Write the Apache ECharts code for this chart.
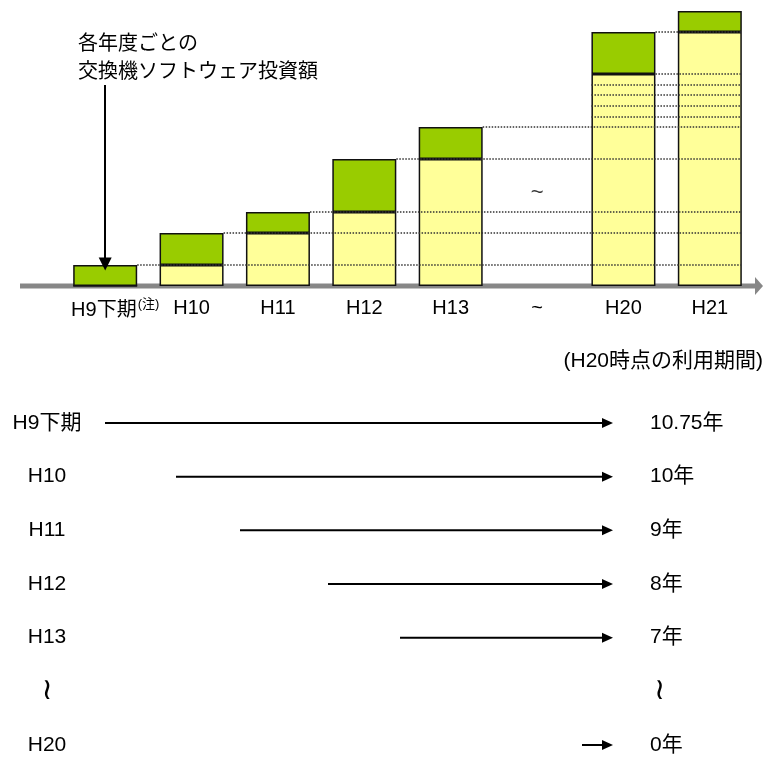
<!DOCTYPE html>
<html>
<head>
<meta charset="utf-8">
<script src="https://cdn.jsdelivr.net/npm/echarts@6/dist/echarts.min.js"></script>
<style>
  html, body { margin: 0; padding: 0; background: #fff; }
  #chart { width: 763px; height: 758px; }
</style>
</head>
<body>
<div id="chart"></div>
<script>
// fiscal periods shown in the upper bar chart
const categories = ['H9下期', 'H10', 'H11', 'H12', 'H13', '~', 'H20', 'H21']
// accumulated software investment before each period (yellow) and new investment of the period (green)
const priorTotal = [0, 21, 53, 74, 127, null, 212, 254]
const newInvest = [21, 32, 21, 53, 32, null, 42, 21]
// dotted guide levels (accumulated totals) and the bar each one starts from
const guideLevels = [21, 53, 74, 127, 159, 169, 180, 191, 201, 212, 254]
const guideFrom = ['H9下期', 'H10', 'H11', 'H12', 'H13', 'H20', 'H20', 'H20', 'H20', 'H20', 'H20']

// lower part: usage period as of H20
const periodRows = ['H9下期', 'H10', 'H11', 'H12', 'H13', '≀', 'H20']
const periodLabels = ['10.75年', '10年', '9年', '8年', '7年', '≀', '0年']
const arrowLength = [508, 437, 373, 285, 213, null, 31]

const FONT = "'Liberation Sans', Arial, 'Noto Sans CJK JP', sans-serif"
const BAR_W = 64

const chart = echarts.init(document.getElementById('chart'))

const guideData = guideLevels.map((v, i) => [categories.indexOf(guideFrom[i]), v])
const arrowData = arrowLength.map((v, i) => [v, i]).filter(d => d[0] != null)

const option = {
  animation: false,
  backgroundColor: '#fff',
  textStyle: { fontFamily: FONT },
  grid: [
    { left: 62, right: 10, top: 11, bottom: 472 },
    { left: 105, right: 150, top: 423, bottom: 13 }
  ],
  xAxis: [
    {
      gridIndex: 0,
      type: 'category',
      data: categories,
      axisLine: { show: false },
      axisTick: { show: false },
      axisLabel: {
        interval: 0,
        margin: 12,
        color: '#000',
        fontSize: 20,
        fontFamily: FONT,
        formatter: v => v === 'H9下期' ? '{a|H9下期}{s|(注)}' : v,
        rich: {
          a: { fontSize: 20, color: '#000', fontFamily: FONT, padding: [0, 0, 0, 20] },
          s: { fontSize: 13, color: '#000', fontFamily: FONT, padding: [0, 0, 12, 1] }
        }
      }
    },
    {
      gridIndex: 1,
      type: 'value',
      min: -508,
      max: 0,
      show: false
    }
  ],
  yAxis: [
    { gridIndex: 0, type: 'value', min: 0, max: 275, show: false },
    {
      gridIndex: 1,
      type: 'category',
      data: periodRows,
      inverse: true,
      boundaryGap: false,
      axisLine: { show: false },
      axisTick: { show: false },
      splitLine: { show: false },
      axisLabel: {
        interval: 0,
        margin: 58,
        align: 'center',
        color: '#000',
        fontSize: 21,
        fontFamily: FONT,
        formatter: v => v === '≀' ? '{w|≀}' : v,
        rich: { w: { fontSize: 30, fontFamily: 'DejaVu Sans', color: '#000' } }
      }
    },
    {
      gridIndex: 1,
      type: 'category',
      position: 'right',
      data: periodLabels,
      inverse: true,
      boundaryGap: false,
      axisLine: { show: false },
      axisTick: { show: false },
      splitLine: { show: false },
      axisLabel: {
        interval: 0,
        margin: 37,
        align: 'left',
        color: '#000',
        fontSize: 21,
        fontFamily: FONT,
        formatter: v => v === '≀' ? '{w|≀}' : v,
        rich: { w: { fontSize: 30, fontFamily: 'DejaVu Sans', color: '#000', padding: [0, 0, 0, 4] } }
      }
    }
  ],
  graphic: [
    {
      type: 'line',
      z: 0,
      shape: { x1: 20, y1: 286, x2: 757, y2: 286 },
      style: { stroke: '#878787', lineWidth: 5 }
    },
    {
      type: 'polygon',
      z: 0,
      shape: { points: [[755, 277], [763, 286], [755, 295]] },
      style: { fill: '#878787' }
    },
    {
      type: 'text',
      left: 78,
      top: 28,
      style: {
        text: '各年度ごとの\n交換機ソフトウェア投資額',
        font: "20px 'Noto Sans CJK JP'",
        lineHeight: 28,
        fill: '#000'
      }
    },
    {
      type: 'text',
      x: 763,
      y: 361,
      style: {
        text: '(H20時点の利用期間)',
        font: "21px 'Liberation Sans', 'Noto Sans CJK JP'",
        align: 'right',
        verticalAlign: 'middle',
        fill: '#000'
      }
    }
  ],
  series: [
    {
      name: '累計',
      type: 'bar',
      stack: 'inv',
      barWidth: BAR_W,
      data: priorTotal.map(v => v == null ? '-' : v),
      itemStyle: { color: '#FFFF99', borderColor: '#111', borderWidth: 1.5 },
      z: 2
    },
    {
      name: '投資額',
      type: 'bar',
      stack: 'inv',
      barWidth: BAR_W,
      data: newInvest.map(v => v == null ? '-' : v),
      itemStyle: { color: '#99CC00', borderColor: '#111', borderWidth: 1.5 },
      z: 2,
      markLine: {
        silent: true,
        symbol: ['none', 'triangle'],
        symbolSize: 13,
        label: { show: false },
        lineStyle: { color: '#000', width: 2, type: 'solid' },
        data: [[{ coord: ['H9下期', 201] }, { coord: ['H9下期', 22] }]]
      }
    },
    {
      name: 'guide',
      type: 'custom',
      z: 5,
      silent: true,
      encode: { x: 0, y: 1 },
      data: guideData,
      renderItem: (params, api) => {
        const idx = api.value(0)
        const lvl = api.value(1)
        const c = api.coord([idx, lvl])
        const half = BAR_W / 2
        const x1 = lvl < priorTotal[idx] ? c[0] - half : c[0] + half
        const x2 = api.coord([categories.length - 1, lvl])[0] + half - 1
        return {
          type: 'line',
          shape: { x1: x1, y1: c[1], x2: x2, y2: c[1] },
          style: { stroke: '#333', lineWidth: 1.3, lineDash: [1.5, 1.5] }
        }
      }
    },
    {
      name: 'break',
      type: 'scatter',
      symbolSize: 0,
      silent: true,
      data: [['~', 93]],
      label: { show: true, position: 'inside', formatter: '~', fontSize: 22, color: '#000' }
    },
    {
      name: 'period',
      type: 'custom',
      xAxisIndex: 1,
      yAxisIndex: 1,
      silent: true,
      encode: { x: 0, y: 1 },
      data: arrowData.map(d => [-d[0], d[1]]),
      renderItem: (params, api) => {
        const row = api.value(1)
        const s = api.coord([api.value(0), row])
        const e = api.coord([0, row])
        return {
          type: 'group',
          children: [
            {
              type: 'line',
              shape: { x1: s[0], y1: s[1], x2: e[0] - 8, y2: e[1] },
              style: { stroke: '#000', lineWidth: 2 }
            },
            {
              type: 'polygon',
              shape: { points: [[e[0], e[1]], [e[0] - 11, e[1] - 5], [e[0] - 11, e[1] + 5]] },
              style: { fill: '#000' }
            }
          ]
        }
      }
    }
  ]
}

chart.setOption(option)
</script>
</body>
</html>
